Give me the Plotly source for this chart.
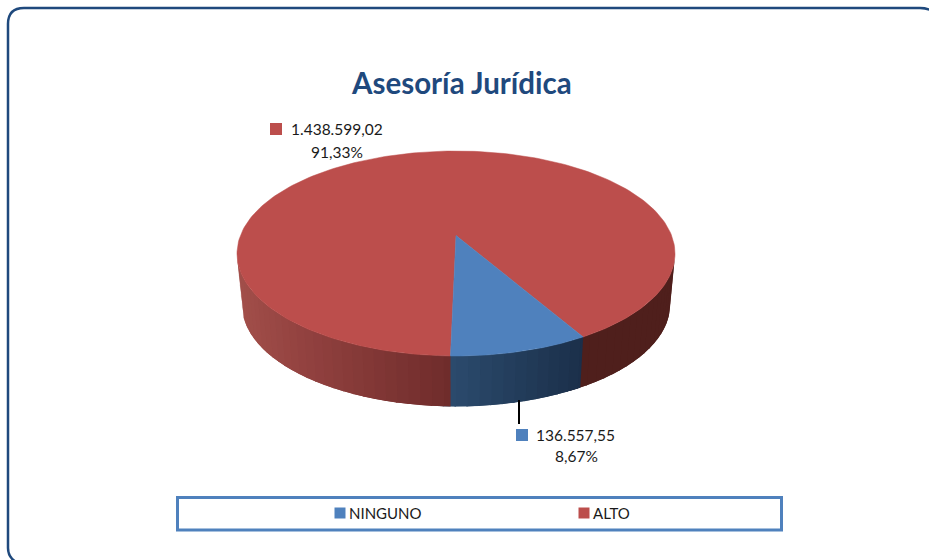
import numpy as np
import plotly.graph_objects as go

# ---- data ----
title = "Asesoría Jurídica"
categories = ["NINGUNO", "ALTO"]
values = [136557.55, 1438599.02]
colors = ["#4F81BD", "#BC4E4C"]

# ---- drawing parameters ----
W, H = 929, 560
FONT = "Lato, Carlito, Calibri, sans-serif"
start_deg = 60.0
cx, cy, rx, ry = 456.0, 253.5, 219.0, 102.5
cy2, rx2, ry2 = 305.0, 214.0, 101.5
persp = -0.176
total = sum(values)
spans = [v / total * 360 for v in values]


def project(theta_deg):
    t = np.radians(theta_deg)
    u, v = np.cos(t), np.sin(t)
    d = 1 + persp * v
    return u * np.sqrt(1 - persp ** 2) / d, (v + persp) / d


def lerp_hex(stops, f):
    pos = [s[0] for s in stops]
    rgb = [[int(s[1][i:i + 2], 16) for s in stops] for i in (1, 3, 5)]
    return "rgb(%d,%d,%d)" % tuple(round(np.interp(f, pos, c)) for c in rgb)


# wall colour by screen x
red_wall = [(237, "#A24F4A"), (300, "#934240"), (449, "#6F2C2B"), (452, "#6F2C2B"), (583, "#4F1F1C"), (675, "#4F1F1C")]
blue_wall = [(450, "#2B4B6D"), (583, "#1B2F4A")]

fig = go.Figure()


def poly(xs, ys, color, lw=0.0):
    fig.add_trace(go.Scatter(x=xs, y=ys, mode="lines", fill="toself", fillcolor=color,
                             line=dict(color=color, width=lw), hoverinfo="skip", showlegend=False))


# visible wall strips, from the slice boundaries; each strip runs under the next to avoid seams
b0, b1 = start_deg, start_deg + spans[0]
vis0 = np.degrees(np.arcsin(-persp))
vis1 = 180 - vis0
edges = sorted(set(np.linspace(vis0, vis1, 61).tolist() + [b0, b1]))
for a0, a1 in zip(edges[:-1], edges[1:]):
    th = np.linspace(a0, min(a1 + 3, vis1), 8)
    xe, ye = project(th)
    xs = np.r_[cx + rx * xe, (cx + rx2 * xe)[::-1]]
    ys = np.r_[cy + ry * ye, (cy2 + ry2 * ye)[::-1]]
    mid = cx + rx * project((a0 + a1) / 2)[0]
    in_blue = b0 <= (a0 + a1) / 2 <= b1
    poly(xs, ys, lerp_hex(blue_wall if in_blue else red_wall, mid))

# top faces: ALTO first, NINGUNO above it
apex_y = cy + persp * ry
for i, (s, e) in [(1, (b1, b1 + spans[1])), (0, (b0, b1))]:
    xe, ye = project(np.linspace(s, e, 240))
    poly(np.r_[cx, cx + rx * xe, cx], np.r_[apex_y, cy + ry * ye, apex_y], colors[i], 0.5)


def es(v):
    return f"{v:,.2f}".replace(",", "X").replace(".", ",").replace("X", ".")


def pct(v):
    return f"{v / total * 100:.2f}".replace(".", ",") + "%"


# data-label swatches
fig.add_trace(go.Scatter(x=[522, 276], y=[435, 129], mode="markers", hoverinfo="skip", showlegend=False,
                         marker=dict(symbol="square", size=12, color=colors, line=dict(width=0))))
# leader line
fig.add_trace(go.Scatter(x=[519, 519], y=[400, 424], mode="lines", hoverinfo="skip", showlegend=False,
                         line=dict(color="#000000", width=2)))
# legend swatches
fig.add_trace(go.Scatter(x=[340, 584], y=[513, 513], mode="markers", hoverinfo="skip", showlegend=False,
                         marker=dict(symbol="square", size=11, color=colors, line=dict(width=0))))

txt = dict(family=FONT, color="#1A1A1A")
ann = [
    dict(x=461, y=82, text=f"<b>{title}</b>", font=dict(family=FONT, size=29.5, color="#1F497D")),
    dict(x=336.5, y=129, text=es(values[1]), font=dict(size=15.5, **txt)),
    dict(x=337, y=152, text=pct(values[1]), font=dict(size=15.5, **txt)),
    dict(x=575.5, y=435, text=es(values[0]), font=dict(size=15.5, **txt)),
    dict(x=576, y=456, text=pct(values[0]), font=dict(size=15.5, **txt)),
    dict(x=346.5, y=513, text=categories[0], xanchor="left", font=dict(size=15, **txt)),
    dict(x=590.5, y=513, text=categories[1], xanchor="left", font=dict(size=15, **txt)),
]
for a in ann:
    a.setdefault("xanchor", "center")
    a.update(xref="x", yref="y", yanchor="middle", showarrow=False)

frame_line = dict(color="#1F497D", width=2.5)
frame = dict(type="path", xref="x", yref="y", line=frame_line,
             path="M 8 548 L 8 24 Q 8 8 24 8 L 920 8 Q 930 8 936 14")
bottom_l = dict(type="path", xref="x", yref="y", line=frame_line,
                path="M 8 548 Q 8 557 16 562")
legend_box = dict(type="rect", xref="x", yref="y", x0=177.5, y0=497.5, x1=781.5, y1=530,
                  line=dict(color="#4F81BD", width=3), fillcolor="rgba(0,0,0,0)")

fig.update_layout(
    width=W, height=H, autosize=False,
    margin=dict(l=0, r=0, t=0, b=0),
    paper_bgcolor="#FFFFFF", plot_bgcolor="#FFFFFF",
    xaxis=dict(range=[0, W], visible=False, fixedrange=True),
    yaxis=dict(range=[H, 0], visible=False, fixedrange=True),
    showlegend=False,
    annotations=ann,
    shapes=[frame, bottom_l, legend_box],
)
fig.write_html("out.html", config=dict(displayModeBar=False),
               post_script="document.body.style.margin='0';document.body.style.overflow='hidden';")
